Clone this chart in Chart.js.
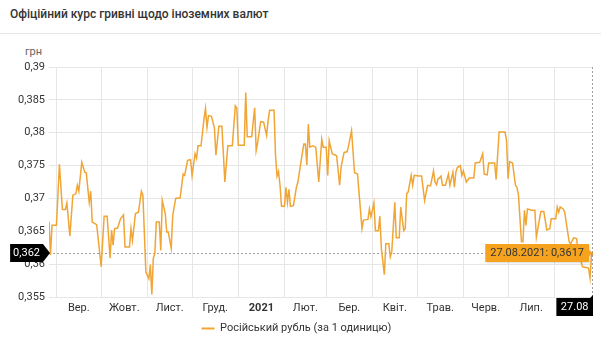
<!DOCTYPE html>
<html lang="uk">
<head>
<meta charset="utf-8">
<title>Офіційний курс гривні щодо іноземних валют</title>
<script src="https://cdn.jsdelivr.net/npm/chart.js@4.4.0/dist/chart.umd.min.js"></script>
<style>
  html, body { margin: 0; padding: 0; background: #fff; }
  body { width: 601px; height: 350px; position: relative; overflow: hidden; font-family: Roboto, sans-serif; }
  .title { position: absolute; left: 10px; top: 7px; font-size: 12px; line-height: 14px; font-weight: 500; color: #333; }
  .sep { position: absolute; left: 0; width: 601px; top: 33px; border-top: 1px solid #e6e6e6; }
  .unit { position: absolute; left: 25px; top: 45px; font-size: 11px; color: #666; }
  #chart { position: absolute; left: 0; top: 0; }
</style>
</head>
<body>
<div class="title">Офіційний курс гривні щодо іноземних валют</div>
<div class="sep"></div>
<div class="unit">грн</div>
<canvas id="chart" width="601" height="350"></canvas>
<script>
// день від 27.08.2020 та курс рубля (грн за 1 одиницю)
const days = [
  0, 1, 2, 5, 7, 9, 11, 12, 14, 16, 18, 19, 20, 22, 24, 25, 27, 28, 29, 32,
  35, 37, 39, 41, 42, 43, 44, 46, 48, 50, 51, 54, 55, 56, 58, 60, 62, 63, 65, 67,
  68, 69, 70, 71, 72, 74, 75, 76, 78, 79, 80, 82, 83, 85, 88, 90, 91, 93, 95, 96,
  98, 99, 100, 102, 104, 105, 106, 107, 109, 111, 112, 114, 116, 118, 120, 123, 125, 126, 127, 131,
  132, 133, 136, 138, 139, 140, 142, 144, 146, 147, 148, 151, 152, 153, 154, 155, 156, 158, 159, 160,
  161, 162, 164, 166, 167, 169, 171, 172, 173, 174, 175, 177, 179, 181, 183, 184, 186, 187, 188, 190,
  193, 195, 196, 198, 200, 201, 203, 205, 207, 210, 211, 214, 215, 216, 218, 219, 221, 222, 223, 225,
  226, 228, 229, 230, 232, 233, 235, 236, 238, 239, 240, 241, 243, 244, 245, 246, 248, 250, 252, 254,
  256, 258, 259, 260, 261, 262, 263, 264, 266, 268, 269, 270, 271, 272, 273, 274, 276, 277, 278, 280,
  282, 285, 286, 289, 291, 292, 294, 295, 299, 300, 302, 306, 307, 308, 309, 311, 313, 314, 315, 317,
  318, 319, 320, 321, 324, 326, 327, 330, 332, 334, 336, 337, 340, 341, 342, 343, 345, 346, 349, 350,
  352, 354, 355, 358, 362, 363, 364, 365
];
const rates = [
  0.3665, 0.3614, 0.3659, 0.3659, 0.3752, 0.3683, 0.3683, 0.3693, 0.3643, 0.3705, 0.3707, 0.3720, 0.3711, 0.3755, 0.3740, 0.3739, 0.3694, 0.3711, 0.3664, 0.3660,
  0.3596, 0.3673, 0.3673, 0.3609, 0.3652, 0.3629, 0.3654, 0.3655, 0.3669, 0.3675, 0.3626, 0.3626, 0.3654, 0.3636, 0.3677, 0.3679, 0.3711, 0.3705, 0.3588, 0.3578,
  0.3599, 0.3554, 0.3609, 0.3616, 0.3664, 0.3664, 0.3621, 0.3697, 0.3677, 0.3649, 0.3649, 0.3624, 0.3674, 0.3700, 0.3701, 0.3737, 0.3735, 0.3758, 0.3759, 0.3735,
  0.3768, 0.3761, 0.3780, 0.3780, 0.3821, 0.3837, 0.3808, 0.3826, 0.3825, 0.3807, 0.3766, 0.3810, 0.3810, 0.3725, 0.3780, 0.3780, 0.3841, 0.3838, 0.3781, 0.3781,
  0.3861, 0.3794, 0.3794, 0.3838, 0.3773, 0.3785, 0.3817, 0.3816, 0.3796, 0.3818, 0.3834, 0.3834, 0.3765, 0.3734, 0.3741, 0.3720, 0.3688, 0.3688, 0.3717, 0.3694,
  0.3714, 0.3688, 0.3689, 0.3717, 0.3725, 0.3755, 0.3783, 0.3783, 0.3751, 0.3813, 0.3778, 0.3780, 0.3778, 0.3725, 0.3790, 0.3778, 0.3778, 0.3735, 0.3788, 0.3768,
  0.3765, 0.3720, 0.3748, 0.3770, 0.3771, 0.3780, 0.3803, 0.3739, 0.3737, 0.3654, 0.3667, 0.3668, 0.3684, 0.3672, 0.3693, 0.3651, 0.3651, 0.3673, 0.3624, 0.3584,
  0.3631, 0.3631, 0.3611, 0.3619, 0.3694, 0.3640, 0.3640, 0.3687, 0.3651, 0.3654, 0.3707, 0.3710, 0.3735, 0.3720, 0.3735, 0.3735, 0.3734, 0.3734, 0.3697, 0.3720,
  0.3719, 0.3742, 0.3725, 0.3721, 0.3730, 0.3731, 0.3734, 0.3720, 0.3720, 0.3737, 0.3720, 0.3730, 0.3740, 0.3717, 0.3740, 0.3747, 0.3750, 0.3735, 0.3742, 0.3725,
  0.3731, 0.3731, 0.3754, 0.3755, 0.3768, 0.3737, 0.3736, 0.3754, 0.3754, 0.3729, 0.3801, 0.3801, 0.3788, 0.3730, 0.3756, 0.3754, 0.3720, 0.3717, 0.3705, 0.3634,
  0.3634, 0.3682, 0.3659, 0.3684, 0.3682, 0.3682, 0.3641, 0.3680, 0.3680, 0.3652, 0.3654, 0.3669, 0.3669, 0.3687, 0.3679, 0.3687, 0.3684, 0.3679, 0.3634, 0.3631,
  0.3640, 0.3639, 0.3619, 0.3596, 0.3594, 0.3579, 0.3614, 0.3617
];
const monthLabels = ['Вер.', 'Жовт.', 'Лист.', 'Груд.', '2021', 'Лют.', 'Бер.', 'Квіт.', 'Трав.', 'Черв.', 'Лип.'];
const seriesName = 'Російський рубль (за 1 одиницю)';

const lineColor = '#f0a535';
const gridColor = '#e6e6e6';
const DAY = 864e5;
const startDate = Date.UTC(2020, 7, 27);
const lastDay = days[days.length - 1];

// межі місяців дають сітку, середини місяців - підписи
const monthStarts = [];
for (let m = 8; m <= 19; m++) monthStarts.push((Date.UTC(2020, m, 1) - startDate) / DAY);
const axisTicks = [];
monthStarts.forEach((d, i) => {
  axisTicks.push({ value: d, label: '', line: true });
  if (i < monthLabels.length) {
    axisTicks.push({ value: (d + monthStarts[i + 1]) / 2, label: monthLabels[i], line: false });
  }
});

const comma = (v, d) => Number(v.toFixed(d)).toString().replace('.', ',');
const pad2 = n => String(n).padStart(2, '0');
const lastDate = new Date(startDate + lastDay * DAY);
const dayMonth = pad2(lastDate.getUTCDate()) + '.' + pad2(lastDate.getUTCMonth() + 1);
const fullDate = dayMonth + '.' + lastDate.getUTCFullYear();

// пунктирні лінії та підписи останнього значення
const lastValueMarks = {
  id: 'lastValueMarks',
  beforeDatasetsDraw(chart) {
    const { ctx, chartArea: a, scales: { x, y } } = chart;
    const px = Math.round(x.getPixelForValue(lastDay)) - 0.5;
    const py = Math.round(y.getPixelForValue(rates[rates.length - 1])) + 0.5;
    ctx.save();
    ctx.strokeStyle = '#a0a0a0';
    ctx.lineWidth = 1;
    ctx.setLineDash([2, 2]);
    ctx.beginPath();
    ctx.moveTo(a.left, py); ctx.lineTo(a.right, py);
    ctx.moveTo(px, a.top); ctx.lineTo(px, a.bottom);
    ctx.stroke();
    ctx.restore();
  },
  afterDraw(chart) {
    const { ctx, chartArea: a, scales: { x, y } } = chart;
    const last = rates[rates.length - 1];
    const px = x.getPixelForValue(lastDay);
    const py = y.getPixelForValue(last);
    ctx.save();
    ctx.font = '11px Roboto';
    ctx.textBaseline = 'middle';
    ctx.textAlign = 'center';

    // мітка на осі Y
    const yText = comma(last, 3);
    const yw = ctx.measureText(yText).width + 6;
    const yRight = a.left - 6;
    ctx.fillStyle = '#000';
    ctx.beginPath();
    ctx.moveTo(yRight - yw, py - 9);
    ctx.lineTo(yRight, py - 9);
    ctx.lineTo(a.left + 1, py);
    ctx.lineTo(yRight, py + 9);
    ctx.lineTo(yRight - yw, py + 9);
    ctx.closePath();
    ctx.fill();
    ctx.fillStyle = '#fff';
    ctx.fillText(yText, yRight - yw / 2, py + 0.5);

    // мітка на осі X
    const xw = ctx.measureText(dayMonth).width + 9;
    const xTop = a.bottom + 1;
    ctx.fillStyle = '#000';
    ctx.beginPath();
    ctx.moveTo(px - xw, xTop);
    ctx.lineTo(px - 3, xTop);
    ctx.lineTo(px, xTop - 3);
    ctx.lineTo(px, xTop + 18);
    ctx.lineTo(px - xw, xTop + 18);
    ctx.closePath();
    ctx.fill();
    ctx.fillStyle = '#fff';
    ctx.fillText(dayMonth, px - xw / 2, xTop + 9.5);

    // підказка
    const tText = fullDate + ': ' + comma(last, 4);
    const tw = ctx.measureText(tText).width + 10;
    const tRight = px - 4;
    ctx.fillStyle = '#f5a31f';
    ctx.shadowColor = 'rgba(0,0,0,0.15)';
    ctx.shadowOffsetX = 1;
    ctx.shadowOffsetY = 1;
    ctx.shadowBlur = 2;
    ctx.beginPath();
    ctx.moveTo(tRight - tw, py - 9);
    ctx.lineTo(tRight, py - 9);
    ctx.lineTo(tRight, py - 3);
    ctx.lineTo(px, py);
    ctx.lineTo(tRight, py + 3);
    ctx.lineTo(tRight, py + 9);
    ctx.lineTo(tRight - tw, py + 9);
    ctx.closePath();
    ctx.fill();
    ctx.shadowColor = 'transparent';
    ctx.fillStyle = '#333';
    ctx.fillText(tText, tRight - tw / 2, py + 0.5);
    ctx.restore();
  }
};

new Chart(document.getElementById('chart').getContext('2d'), {
  type: 'line',
  data: {
    datasets: [{
      label: seriesName,
      data: days.map((d, i) => ({ x: d, y: rates[i] })),
      borderColor: lineColor,
      backgroundColor: lineColor,
      borderWidth: 1.5,
      pointRadius: 0,
      tension: 0
    }]
  },
  options: {
    responsive: false,
    animation: false,
    devicePixelRatio: 1,
    layout: { padding: { left: 0, right: 8, top: 67, bottom: 6 } },
    scales: {
      x: {
        type: 'linear',
        min: 0,
        max: lastDay,
        afterBuildTicks: s => { s.ticks = axisTicks.map(t => ({ value: t.value })); },
        ticks: {
          autoSkip: false,
          maxRotation: 0,
          padding: 5,
          color: '#333',
          font: c => ({ family: 'Roboto', size: 11, weight: axisTicks[c.index] && axisTicks[c.index].label === '2021' ? 'bold' : 'normal' }),
          callback: (v, i) => axisTicks[i].label
        },
        grid: {
          drawTicks: false,
          color: c => (axisTicks[c.index] && axisTicks[c.index].line ? gridColor : 'rgba(0,0,0,0)')
        },
        border: { display: false },
        afterFit: s => { s.height = 22; }
      },
      y: {
        min: 0.355,
        max: 0.39,
        ticks: {
          stepSize: 0.005,
          padding: 4,
          color: '#333',
          font: { family: 'Roboto', size: 11 },
          callback: v => comma(v, 3)
        },
        grid: { color: gridColor, drawTicks: false },
        border: { display: false },
        afterFit: s => { s.width = 49; }
      }
    },
    plugins: {
      tooltip: { enabled: false },
      legend: {
        position: 'bottom',
        labels: {
          boxWidth: 13,
          boxHeight: 2,
          padding: 4,
          color: '#333',
          font: { family: 'Roboto', size: 11 },
          generateLabels(chart) {
            const items = Chart.defaults.plugins.legend.labels.generateLabels(chart);
            items.forEach(it => { it.lineWidth = 0; });
            return items;
          }
        }
      }
    }
  },
  plugins: [lastValueMarks]
});
</script>
</body>
</html>
